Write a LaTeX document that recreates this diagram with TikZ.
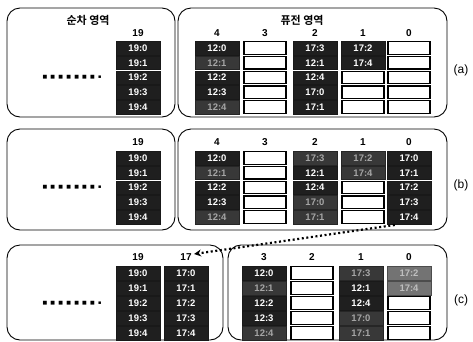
\documentclass[tikz,border=0pt]{standalone}
\usepackage{fontspec}
\setmainfont{Liberation Sans}
\newfontfamily\kofont{Noto Sans CJK KR}[BoldFont={* Bold}]
\newfontfamily\dvfont{DejaVu Sans}
\usetikzlibrary{arrows.meta}
\newcommand\dotrow{■\hspace{3.2pt}■\hspace{3.2pt}■\hspace{3.2pt}■\hspace{3.2pt}■\hspace{3.2pt}■\hspace{3.2pt}■\hspace{3.2pt}▪}
\begin{document}
\begin{tikzpicture}[x=1pt,y=-1pt,
  panel/.style={draw, line width=0.9pt, rounded corners=13pt},
  val/.style={rectangle, fill=black!88, draw=black!90, minimum width=44, minimum height=13.5, inner sep=0, text=white, font=\fontsize{9.5}{10}\selectfont\bfseries},
  inv/.style={val, fill=black!78, draw=black!85, text=black!35},
  lgt/.style={val, fill=black!55, draw=black!70, text=black!25},
  emp/.style={rectangle, draw=black, line width=1.1pt, fill=white, minimum width=42, minimum height=12.5, inner sep=0},
  hdr/.style={font=\fontsize{10}{11}\selectfont\bfseries},
  ttl/.style={font=\kofont\fontsize{11}{12}\selectfont\bfseries},
  dots/.style={font=\dvfont\fontsize{5}{6}\selectfont},
  tag/.style={font=\fontsize{12}{13}\selectfont}]
\useasboundingbox (0,0) rectangle (473,341);
% ---------- panel (a) ----------
\draw[panel] (7,8) rectangle (175,117);
\draw[panel] (178,8) rectangle (447,117);
\node[ttl] (ta1) at (88,20) {순차 영역};
\node[ttl] (ta2) at (302,20) {퓨전 영역};
\node[hdr] (ah19) at (138,33) {19};
\node[hdr] (ah4) at (217,33) {4};
\node[hdr] (ah3) at (265,33) {3};
\node[hdr] (ah2) at (315,33) {2};
\node[hdr] (ah1) at (363,33) {1};
\node[hdr] (ah0) at (409,33) {0};
\node[dots] (ad) at (72,77.5) {\dotrow};
\foreach \t/\l [count=\i] in {val/19:0,val/19:1,val/19:2,val/19:3,val/19:4}
  \node[\t] (a19-\i) at (138,{48+(\i-1)*14.75}) {\l};
\foreach \t/\l [count=\i] in {val/12:0,inv/12:1,val/12:2,val/12:3,inv/12:4}
  \node[\t] (a4-\i) at (217,{48+(\i-1)*14.75}) {\l};
\foreach \i in {1,...,5}
  \node[emp] (a3-\i) at (265,{48+(\i-1)*14.75}) {};
\foreach \t/\l [count=\i] in {val/17:3,val/12:1,val/12:4,val/17:0,val/17:1}
  \node[\t] (a2-\i) at (315,{48+(\i-1)*14.75}) {\l};
\foreach \t/\l [count=\i] in {val/17:2,val/17:4,emp/,emp/,emp/}
  \node[\t] (a1-\i) at (363,{48+(\i-1)*14.75}) {\l};
\foreach \i in {1,...,5}
  \node[emp] (a0-\i) at (409,{48+(\i-1)*14.75}) {};
\node[tag] (la) at (461,70) {(a)};
% ---------- panel (b) ----------
\draw[panel] (7,129) rectangle (175,230);
\draw[panel] (178,129) rectangle (447,230);
\node[hdr] (bh19) at (138,142) {19};
\node[hdr] (bh4) at (217,142) {4};
\node[hdr] (bh3) at (265,142) {3};
\node[hdr] (bh2) at (315,142) {2};
\node[hdr] (bh1) at (363,142) {1};
\node[hdr] (bh0) at (409,142) {0};
\node[dots] (bd) at (72,187) {\dotrow};
\foreach \t/\l [count=\i] in {val/19:0,val/19:1,val/19:2,val/19:3,val/19:4}
  \node[\t] (b19-\i) at (138,{158+(\i-1)*14.75}) {\l};
\foreach \t/\l [count=\i] in {val/12:0,inv/12:1,val/12:2,val/12:3,inv/12:4}
  \node[\t] (b4-\i) at (217,{158+(\i-1)*14.75}) {\l};
\foreach \i in {1,...,5}
  \node[emp] (b3-\i) at (265,{158+(\i-1)*14.75}) {};
\foreach \t/\l [count=\i] in {inv/17:3,val/12:1,val/12:4,inv/17:0,inv/17:1}
  \node[\t] (b2-\i) at (315,{158+(\i-1)*14.75}) {\l};
\foreach \t/\l [count=\i] in {inv/17:2,inv/17:4,emp/,emp/,emp/}
  \node[\t] (b1-\i) at (363,{158+(\i-1)*14.75}) {\l};
\foreach \t/\l [count=\i] in {val/17:0,val/17:1,val/17:2,val/17:3,val/17:4}
  \node[\t] (b0-\i) at (409,{158+(\i-1)*14.75}) {\l};
\node[tag] (lb) at (461,185) {(b)};
% ---------- panel (c) ----------
\draw[panel] (7,245) rectangle (223,340);
\draw[panel] (228,245) rectangle (447,340);
\node[hdr] (ch19) at (138,257) {19};
\node[hdr] (ch17) at (186,257) {17};
\node[hdr] (ch3) at (264,257) {3};
\node[hdr] (ch2) at (312,257) {2};
\node[hdr] (ch1) at (361,257) {1};
\node[hdr] (ch0) at (409,257) {0};
\node[dots] (cd) at (72,303.5) {\dotrow};
\foreach \t/\l [count=\i] in {val/19:0,val/19:1,val/19:2,val/19:3,val/19:4}
  \node[\t] (c19-\i) at (138,{273+(\i-1)*15}) {\l};
\foreach \t/\l [count=\i] in {val/17:0,val/17:1,val/17:2,val/17:3,val/17:4}
  \node[\t] (c17-\i) at (186,{273+(\i-1)*15}) {\l};
\foreach \t/\l [count=\i] in {val/12:0,inv/12:1,val/12:2,val/12:3,inv/12:4}
  \node[\t] (c3-\i) at (264,{273+(\i-1)*15}) {\l};
\foreach \i in {1,...,5}
  \node[emp] (c2-\i) at (312,{273+(\i-1)*15}) {};
\foreach \t/\l [count=\i] in {inv/17:3,val/12:1,val/12:4,inv/17:0,inv/17:1}
  \node[\t] (c1-\i) at (361,{273+(\i-1)*15}) {\l};
\foreach \t/\l [count=\i] in {lgt/17:2,lgt/17:4,emp/,emp/,emp/}
  \node[\t] (c0-\i) at (409,{273+(\i-1)*15}) {\l};
\node[tag] (lc) at (461,300) {(c)};
% ---------- dotted arrow ----------
\draw[line width=2.2pt, dash pattern=on 2pt off 2.6pt,
      -{Stealth[length=7pt,width=7pt]}]
  ([xshift=8pt,yshift=-1pt]b0-5.south west) -- ([xshift=-1pt,yshift=3pt]ch17.east);
\end{tikzpicture}
\end{document}
